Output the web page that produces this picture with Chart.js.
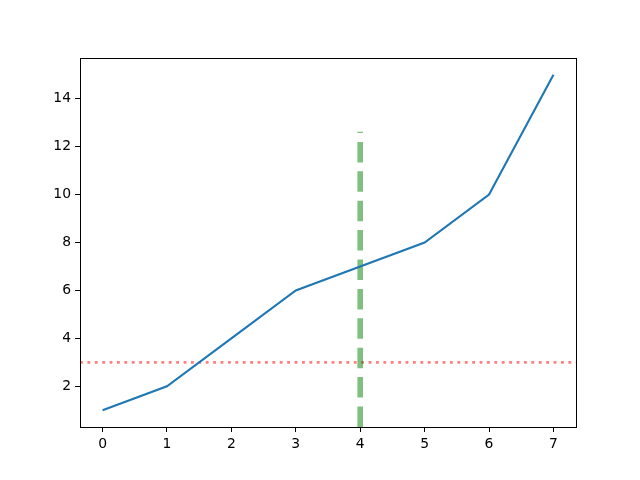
<!DOCTYPE html>
<html>
<head>
<meta charset="utf-8">
<script src="https://cdn.jsdelivr.net/npm/chart.js@4.4.0/dist/chart.umd.min.js"></script>
<style>
  html, body { margin: 0; padding: 0; background: #fff; }
  #wrap { width: 640px; height: 480px; }
</style>
</head>
<body>
<div id="wrap"><canvas id="myChart" width="640" height="480"></canvas></div>
<script>
// line data
var xValues = [0, 1, 2, 3, 4, 5, 6, 7];
var yValues = [1, 2, 4, 6, 7, 8, 10, 15];

// reference lines
var hLineY = 3;
var vLineX = 4;
var vLineTopFrac = 0.8; // fraction of the y axis height

// axis ticks
var xTicks = [0, 1, 2, 3, 4, 5, 6, 7];
var yTicks = [2, 4, 6, 8, 10, 12, 14];

// matplotlib-style 5% margins
var xMin = -0.35, xMax = 7.35;
var yMin = 0.3, yMax = 15.7;

var linePoints = [];
for (var i = 0; i < xValues.length; i++) {
    linePoints.push({x: xValues[i], y: yValues[i]});
}

var frameBox = {
    id: 'frameBox',
    afterDraw: function (chart) {
        var a = chart.chartArea;
        var ctx = chart.ctx;
        ctx.save();
        ctx.strokeStyle = '#000';
        ctx.lineWidth = 1;
        ctx.strokeRect(Math.round(a.left) + 0.5, Math.round(a.top) + 0.5,
            Math.round(a.right - a.left), Math.round(a.bottom - a.top));
        ctx.restore();
    }
};

const config = {
    type: 'line',
    data: {
        datasets: [{
            label: 'hline',
            data: [{x: xMin, y: hLineY}, {x: xMax, y: hLineY}],
            borderColor: 'rgba(255, 0, 0, 0.5)',
            borderWidth: 2.8,
            borderDash: [2.8, 4.6],
            pointRadius: 0,
            order: 2
        }, {
            label: 'vline',
            data: [{x: vLineX, y: yMin}, {x: vLineX, y: yMin + vLineTopFrac * (yMax - yMin)}],
            borderColor: 'rgba(0, 128, 0, 0.5)',
            borderWidth: 5.6,
            borderDash: [20.5, 8.9],
            borderCapStyle: 'butt',
            pointRadius: 0,
            order: 1
        }, {
            label: 'data',
            data: linePoints,
            borderColor: '#1f77b4',
            borderWidth: 2.1,
            pointRadius: 0,
            tension: 0,
            order: 0
        }]
    },
    options: {
        responsive: false,
        animation: false,
        devicePixelRatio: 1,
        layout: { padding: { top: 58, right: 64, left: 0, bottom: 0 } },
        plugins: {
            legend: { display: false },
            tooltip: { enabled: false }
        },
        scales: {
            x: {
                type: 'linear',
                min: xMin,
                max: xMax,
                afterBuildTicks: function (scale) {
                    scale.ticks = xTicks.map(function (v) { return {value: v}; });
                },
                afterFit: function (scale) { scale.height = 53; },
                grid: {
                    display: true,
                    drawOnChartArea: false,
                    drawTicks: true,
                    tickLength: 5,
                    color: '#000'
                },
                border: { display: false },
                ticks: {
                    color: '#000',
                    padding: 4,
                    maxRotation: 0,
                    font: { family: 'DejaVu Sans', size: 13.9 }
                }
            },
            y: {
                type: 'linear',
                min: yMin,
                max: yMax,
                afterBuildTicks: function (scale) {
                    scale.ticks = yTicks.map(function (v) { return {value: v}; });
                },
                afterFit: function (scale) { scale.width = 80; },
                grid: {
                    display: true,
                    drawOnChartArea: false,
                    drawTicks: true,
                    tickLength: 5,
                    color: '#000'
                },
                border: { display: false },
                ticks: {
                    color: '#000',
                    padding: 4,
                    font: { family: 'DejaVu Sans', size: 13.9 }
                }
            }
        }
    },
    plugins: [frameBox]
};

const myChart = new Chart(document.getElementById('myChart'), config);
</script>
</body>
</html>
